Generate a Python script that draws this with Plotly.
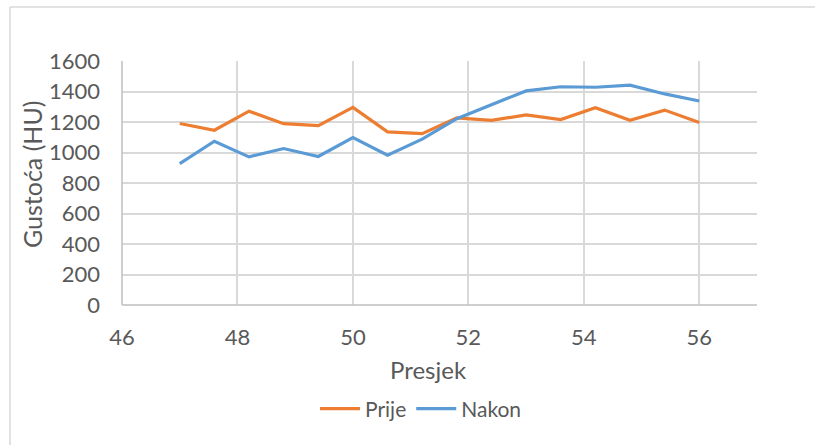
import plotly.graph_objects as go

# Cross-section positions and density readings (HU)
presjek = [47.0, 47.6, 48.2, 48.8, 49.4, 50.0, 50.6, 51.2,
           51.8, 52.4, 53.0, 53.6, 54.2, 54.8, 55.4, 56.0]
prije = [1190, 1146, 1271, 1189, 1176, 1296, 1135, 1124,
         1227, 1211, 1246, 1216, 1293, 1211, 1278, 1196]
nakon = [927, 1074, 971, 1026, 974, 1098, 982, 1088,
         1222, 1314, 1404, 1431, 1428, 1442, 1384, 1338]

x_ticks = [46, 48, 50, 52, 54, 56]
y_ticks = [0, 200, 400, 600, 800, 1000, 1200, 1400, 1600]

FONT = "Lato"
TXT = "#595959"
GRID = "#d9d9d9"

W, H = 815, 445
L, R, T, B = 122, 58, 61, 140
pw, ph = W - L - R, H - T - B


def px(xp):
    return (xp - L) / pw


def py(yp):
    return (H - B - yp) / ph


fig = go.Figure()
fig.add_trace(go.Scatter(x=presjek, y=prije, mode="lines", name="Prije",
                         line=dict(color="#ED7D31", width=3.2)))
fig.add_trace(go.Scatter(x=presjek, y=nakon, mode="lines", name="Nakon",
                         line=dict(color="#5B9BD5", width=3.2)))

fig.update_layout(
    width=W, height=H,
    margin=dict(l=L, r=R, t=T, b=B),
    paper_bgcolor="white", plot_bgcolor="white",
    font=dict(family=FONT, color=TXT, size=22),
    showlegend=True,
    legend=dict(orientation="h", x=px(421), xanchor="center",
                y=py(409), yanchor="middle",
                font=dict(family=FONT, color=TXT, size=21),
                itemwidth=40, bgcolor="rgba(0,0,0,0)"),
    xaxis=dict(range=[46, 57], tickvals=x_ticks, showgrid=True,
               gridcolor=GRID, gridwidth=2, zeroline=False,
               showline=False, ticks="", ticklabelstandoff=17,
               tickfont=dict(family=FONT, color=TXT, size=22)),
    yaxis=dict(range=[0, 1600], tickvals=y_ticks, showgrid=True,
               gridcolor=GRID, gridwidth=2, zeroline=False,
               showline=False, ticks="", ticklabelstandoff=21,
               tickfont=dict(family=FONT, color=TXT, size=22)),
    annotations=[
        dict(text="Presjek", x=px(428), y=py(369), xref="paper", yref="paper",
             showarrow=False, xanchor="center", yanchor="middle",
             font=dict(family=FONT, color=TXT, size=24)),
        dict(text="Gustoća (HU)", x=px(32), y=py(175), xref="paper", yref="paper",
             showarrow=False, xanchor="center", yanchor="middle", textangle=-90,
             font=dict(family=FONT, color=TXT, size=25)),
    ],
    shapes=[
        # axis lines
        dict(type="line", xref="paper", yref="paper", x0=0, x1=0, y0=0, y1=1,
             line=dict(color="#bfbfbf", width=1.5)),
        dict(type="line", xref="paper", yref="paper", x0=0, x1=1, y0=0, y1=0,
             line=dict(color="#bfbfbf", width=1.5)),
        # chart frame (left and top edges)
        dict(type="line", xref="paper", yref="paper", x0=px(10), x1=px(10),
             y0=py(H + 5), y1=py(7), line=dict(color=GRID, width=1.5)),
        dict(type="line", xref="paper", yref="paper", x0=px(10), x1=px(W + 5),
             y0=py(7), y1=py(7), line=dict(color=GRID, width=1.5)),
    ],
)

fig.write_html("out.html")
